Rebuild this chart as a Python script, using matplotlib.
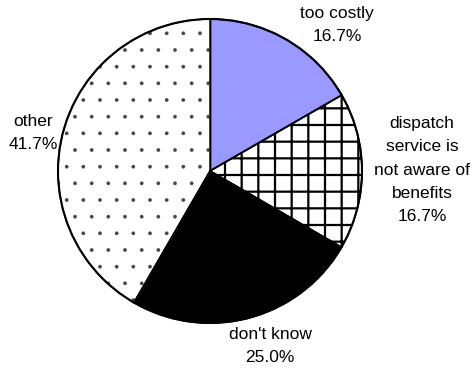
import matplotlib
matplotlib.use("Agg")
import matplotlib.pyplot as plt
from matplotlib.patches import Circle
import numpy as np

labels = ["too costly", "dispatch\nservice is\nnot aware of\nbenefits", "don't know", "other"]
values = [16.7, 16.7, 25.0, 41.7]
pct_text = ["16.7%", "16.7%", "25.0%", "41.7%"]
colors = ["#9999FF", "white", "black", "white"]
hatches = [None, "+", None, "."]
hatch_lw = [1.0, 1.6, 1.0, 0.25]
hatch_edge = ["black", "black", "black", "#444444"]

plt.rcParams['font.family'] = ['Liberation Sans', 'DejaVu Sans']

W, H = 477, 370
fig = plt.figure(figsize=(W/100, H/100), dpi=100)
ax = fig.add_axes([0, 0, 1, 1])
cx, cy, r = 210, 171, 152

wedges, _ = ax.pie(values, startangle=90, counterclock=False, colors=colors,
                   wedgeprops=dict(edgecolor='black', linewidth=1.2), radius=1.0,
                   normalize=True)
ax.set_xlim(-cx / r, (W - cx) / r)
ax.set_ylim(-(H - cy) / r, cy / r)
ax.set_aspect('auto')
ax.axis('off')
for w, h, lw, ec in zip(wedges, hatches, hatch_lw, hatch_edge):
    if h:
        w.set_hatch(h)
        w.set_edgecolor(ec)
        if hasattr(w, 'set_hatch_linewidth'):
            w.set_hatch_linewidth(lw)
        else:
            w._hatch_linewidth = lw

# outline and separators
ax.add_patch(Circle((0, 0), 1.0, fill=False, edgecolor='black', linewidth=1.5, zorder=5))
for w in wedges:
    for ang in (w.theta1, w.theta2):
        t = np.deg2rad(ang)
        ax.plot([0, np.cos(t)], [0, np.sin(t)], color='black', lw=1.0, zorder=5)

# label positions in pixel coords (center of text block)
pos = [(337, 25), (422, 170), (270, 346), (33, 133)]
for lab, pct, (px, py) in zip(labels, pct_text, pos):
    ax.text((px - cx) / r, (cy - py) / r, lab + "\n" + pct, ha='center', va='center',
            fontsize=12.5, linespacing=1.7, color='black')

fig.savefig("out.png", dpi=100)
